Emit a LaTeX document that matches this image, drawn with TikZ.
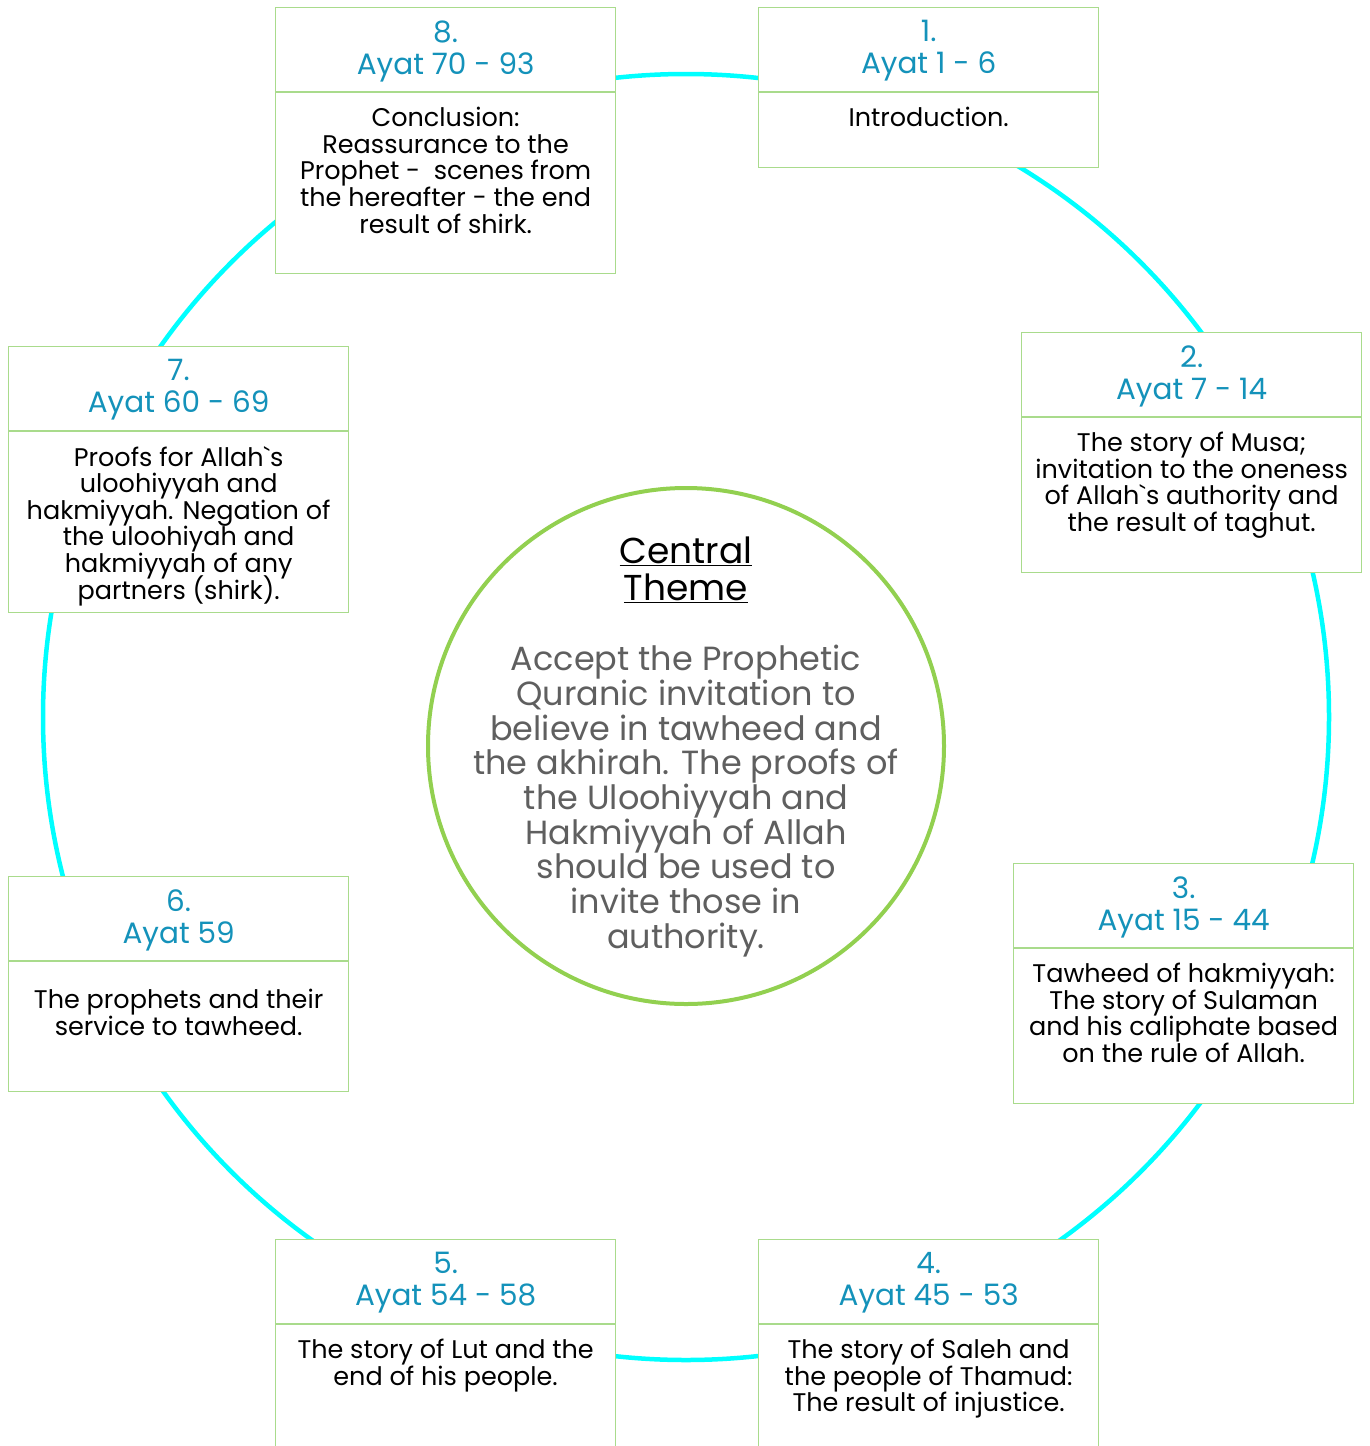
\documentclass[tikz,border=0pt]{standalone}
\usepackage{fontspec}
\setmainfont{Poppins}
\usetikzlibrary{calc}

\definecolor{ringcyan}{RGB}{0,255,255}
\definecolor{boxgreen}{RGB}{169,219,140}
\definecolor{themegreen}{RGB}{146,208,80}
\definecolor{ayatblue}{RGB}{20,146,186}
\definecolor{themegray}{RGB}{95,95,95}

\newcommand{\tightskip}{\lineskiplimit=-20pt\relax}

\tikzset{
  ayatframe/.style={draw=boxgreen, line width=1.3pt, fill=white, minimum width=340, anchor=north west, inner sep=0pt},
  ayatline/.style={draw=boxgreen, line width=1.3pt},
  ayathead/.style={text=ayatblue, font=\fontsize{29.5}{32}\selectfont\tightskip, align=center, inner sep=0pt},
  ayatbody/.style={font=\fontsize{25.5}{26.6}\selectfont\tightskip, align=center, inner sep=0pt, anchor=north},
  themetitle/.style={font=\fontsize{36}{37}\selectfont\tightskip, align=center, inner sep=0pt},
  themebody/.style={text=themegray, font=\fontsize{33.5}{34.7}\selectfont\tightskip, align=center, inner sep=0pt},
}

% #1 name, #2 x, #3 y, #4 height, #5 number, #6 ayat, #7 text drop, #8 text
\newcommand{\ayatbox}[8]{%
  \node[ayatframe, minimum height=#4] (#1) at (#2,#3) {};
  \coordinate (#1-dl) at ($(#1.north west)+(0,85)$);
  \coordinate (#1-dr) at ($(#1.north east)+(0,85)$);
  \draw[ayatline] (#1-dl) -- (#1-dr);
  \node[ayathead] (#1-head) at ($(#1.north)+(0,44)$) {#5.\\Ayat #6};
  \node[ayatbody] (#1-text) at ($(#1.north)+(0,85+#7)$) {#8};
}

\begin{document}
\begin{tikzpicture}[x=1pt,y=1pt,yscale=-1]
  \useasboundingbox (0,0) rectangle (1369,1446);

  % ring behind the boxes
  \draw [color=ringcyan, line width=4.5pt] (686,717) circle (643);

  % central theme
  \node [draw=themegreen, line width=4pt, circle, minimum size=516, inner sep=0pt] (theme) at (686,746) {};
  \node [themetitle] (theme-title) at (686,570) {\underline{Central}\\\underline{Theme}};
  \node [themebody] (theme-text) at (686,801) {Accept the Prophetic\\Quranic invitation to\\believe in tawheed and\\the akhirah. The proofs of\\the Uloohiyyah and\\Hakmiyyah of Allah\\should be used to\\invite those in\\authority.};

  % boxes, clockwise from the top
  \ayatbox{ayat1}{758}{7}{160}{1}{1 - 6}{15}{Introduction.}
  \ayatbox{ayat2}{1021}{332}{240}{2}{7 - 14}{15}{The story of Musa;\\invitation to the oneness\\of Allah\textasciigrave s authority and\\the result of taghut.}
  \ayatbox{ayat3}{1013}{863}{240}{3}{15 - 44}{15}{Tawheed of hakmiyyah:\\The story of Sulaman\\and his caliphate based\\on the rule of Allah.}
  \ayatbox{ayat4}{758}{1239}{300}{4}{45 - 53}{15}{The story of Saleh and\\the people of Thamud:\\The result of injustice.}
  \ayatbox{ayat5}{275}{1239}{300}{5}{54 - 58}{15}{The story of Lut and the\\end of his people.}
  \ayatbox{ayat6}{8}{876}{215}{6}{59}{28}{The prophets and their\\service to tawheed.}
  \ayatbox{ayat7}{8}{346}{266}{7}{60 - 69}{15}{Proofs for Allah\textasciigrave s\\uloohiyyah and\\hakmiyyah. Negation of\\the uloohiyah and\\hakmiyyah of any\\partners (shirk).}
  \ayatbox{ayat8}{275}{7}{266}{8}{70 - 93}{15}{Conclusion:\\Reassurance to the\\Prophet -~ scenes from\\the hereafter - the end\\result of shirk.}
\end{tikzpicture}
\end{document}
